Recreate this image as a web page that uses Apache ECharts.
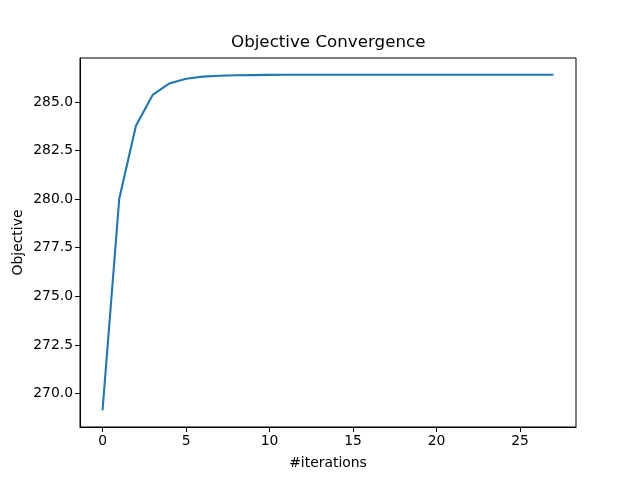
<!DOCTYPE html>
<html>
<head>
<meta charset="utf-8">
<script src="https://cdn.jsdelivr.net/npm/echarts@6/dist/echarts.min.js"></script>
<style>
  html, body { margin: 0; padding: 0; background: #fff; }
  #chart { width: 640px; height: 480px; }
</style>
</head>
<body>
<div id="chart"></div>
<script>
"use strict";

// objective value per iteration
const iterations = [0, 1, 2, 3, 4, 5, 6, 7, 8, 9, 10, 11, 12, 13, 14, 15, 16, 17, 18, 19, 20, 21, 22, 23, 24, 25, 26, 27];
const objective = [269.14, 280.02, 283.78, 285.36, 285.95, 286.19, 286.30, 286.35, 286.37, 286.38, 286.39, 286.40,
    286.40, 286.40, 286.40, 286.40, 286.40, 286.40, 286.40, 286.40, 286.40, 286.40, 286.40, 286.40, 286.40, 286.40, 286.40, 286.40];
const xTicks = [0, 5, 10, 15, 20, 25];
const yTicks = [270, 272.5, 275, 277.5, 280, 282.5, 285];

let myChart = echarts.init(document.getElementById('chart'));

let points = [];
for (let i = 0; i < iterations.length; i++) {
    points.push([iterations[i], objective[i]]);
}

const font = 'DejaVu Sans';

let option = {
    animation: false,
    title: {
        text: 'Objective Convergence',
        left: 231,
        top: 34,
        padding: 0,
        textStyle: { fontFamily: font, fontSize: 16.7, fontWeight: 'normal', color: '#000' }
    },
    grid: {
        left: 80, right: 64, top: 58, bottom: 53,
        show: true, borderColor: '#000', borderWidth: 1, backgroundColor: '#fff'
    },
    xAxis: {
        type: 'value',
        min: -1.35,
        max: 28.35,
        name: '#iterations',
        nameLocation: 'middle',
        nameGap: 29,
        nameMoveOverlap: false,
        nameTextStyle: { fontFamily: font, fontSize: 13.9, color: '#000' },
        axisLine: { show: true, onZero: false, lineStyle: { color: '#000', width: 1 } },
        axisTick: { show: true, length: 5, customValues: xTicks, lineStyle: { color: '#000' } },
        axisLabel: {
            customValues: xTicks, margin: 7,
            fontFamily: font, fontSize: 13.9, color: '#000'
        },
        splitLine: { show: false }
    },
    yAxis: {
        type: 'value',
        min: 268.28,
        max: 287.26,
        name: 'Objective',
        nameLocation: 'middle',
        nameGap: 55,
        nameMoveOverlap: false,
        nameTextStyle: { fontFamily: font, fontSize: 13.9, color: '#000' },
        axisLine: { show: true, onZero: false, lineStyle: { color: '#000', width: 1 } },
        axisTick: { show: true, length: 5, customValues: yTicks, lineStyle: { color: '#000' } },
        axisLabel: {
            customValues: yTicks, margin: 7,
            fontFamily: font, fontSize: 13.9, color: '#000',
            formatter: function (v) { return v.toFixed(1); }
        },
        splitLine: { show: false }
    },
    series: [{
        type: 'line',
        data: points,
        showSymbol: false,
        lineStyle: { color: '#1f77b4', width: 2.1 },
        itemStyle: { color: '#1f77b4' }
    }]
};

myChart.setOption(option);
</script>
</body>
</html>
